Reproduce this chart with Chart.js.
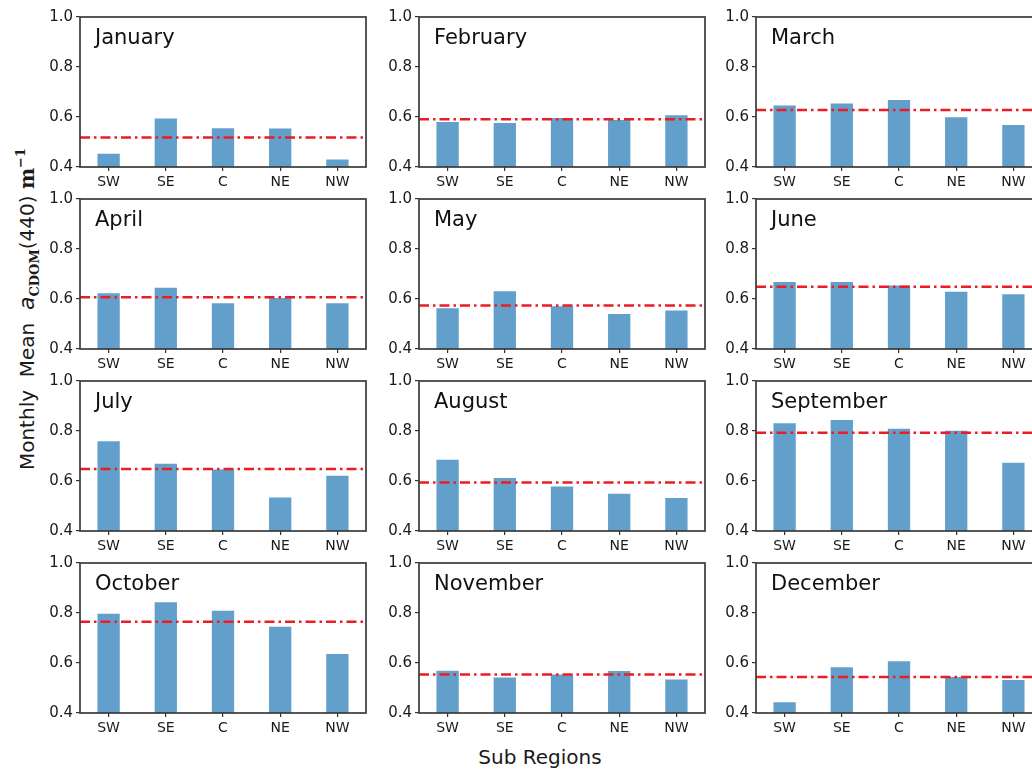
<!DOCTYPE html>
<html>
<head>
<meta charset="utf-8">
<script src="https://cdn.jsdelivr.net/npm/chart.js@4.4.0/dist/chart.umd.min.js"></script>
<style>
  html, body { margin: 0; padding: 0; background: #fff; width: 1032px; height: 769px; overflow: hidden; }
  body { position: relative; font-family: "DejaVu Sans", sans-serif; color: #1a1a1a; }
  .panel { position: absolute; }
  #ytitle {
    position: absolute; left: 27px; top: 309px;
    transform: translate(-50%, -50%) rotate(-90deg);
    white-space: nowrap; font-size: 20px; line-height: 1;
  }
  #ytitle i { font-family: "DejaVu Sans", sans-serif; font-size: 22px; }
  #ytitle .bs { font-family: "DejaVu Serif", serif; font-weight: bold; }
  #ytitle sub { font-size: 13px; vertical-align: -5px; }
  #ytitle sup { font-size: 13px; vertical-align: 9px; }
  #xtitle {
    position: absolute; left: 540px; top: 747px; transform: translateX(-50%);
    white-space: nowrap; font-size: 20px; line-height: 1;
  }
</style>
</head>
<body>
<div id="ytitle">Monthly&nbsp;&nbsp;Mean&nbsp;&nbsp;<i>a</i><sub class="bs">CDOM</sub>(440)&nbsp;<span class="bs">m</span><sup class="bs">&minus;1</sup></div>
<div id="xtitle">Sub Regions</div>
<script>
// sub regions on the x axis of every panel
const regions = ["SW", "SE", "C", "NE", "NW"];
const months = ["January", "February", "March", "April", "May", "June",
                "July", "August", "September", "October", "November", "December"];

// monthly mean aCDOM(440) per region, one row per month
const regionValues = [
  [0.453, 0.594, 0.555, 0.554, 0.430],
  [0.580, 0.576, 0.596, 0.588, 0.607],
  [0.646, 0.654, 0.668, 0.599, 0.568],
  [0.623, 0.645, 0.583, 0.604, 0.583],
  [0.563, 0.631, 0.571, 0.540, 0.554],
  [0.668, 0.668, 0.654, 0.629, 0.619],
  [0.759, 0.669, 0.646, 0.534, 0.621],
  [0.685, 0.612, 0.578, 0.549, 0.532],
  [0.831, 0.844, 0.809, 0.801, 0.673],
  [0.797, 0.843, 0.809, 0.745, 0.636],
  [0.569, 0.542, 0.554, 0.568, 0.534],
  [0.443, 0.583, 0.607, 0.544, 0.532]
];

// whole-area mean for each month (red dash-dot line)
const monthMeans = [0.518, 0.591, 0.628, 0.607, 0.574, 0.649,
                    0.648, 0.594, 0.793, 0.765, 0.554, 0.544];

const yTicks = [0.4, 0.6, 0.8, 1.0];

// panel grid (plot area corners)
const colLeft = [80, 419, 756];
const rowTop = [15, 197, 379, 561];
const plotW = 286, plotH = 152;
const padLeft = 50, padTop = 10, padRight = 6, padBottom = 32;

// draws the mean line, the frame and the month name
const panelDecor = {
  id: "panelDecor",
  afterDatasetsDraw(chart, args, opts) {
    const { ctx, chartArea: a, scales } = chart;
    const y = scales.y.getPixelForValue(opts.mean);
    ctx.save();
    ctx.strokeStyle = "#ec1c24";
    ctx.lineWidth = 2.5;
    ctx.setLineDash([10, 4, 2.5, 4]);
    ctx.beginPath();
    ctx.moveTo(a.left, y);
    ctx.lineTo(a.right, y);
    ctx.stroke();
    ctx.setLineDash([]);
    ctx.strokeStyle = "#3a3a3a";
    ctx.lineWidth = 1.7;
    ctx.strokeRect(a.left, a.top, a.right - a.left, a.bottom - a.top);
    ctx.fillStyle = "#111";
    ctx.font = "21px 'DejaVu Sans'";
    ctx.textBaseline = "alphabetic";
    ctx.fillText(opts.label, a.left + 15, a.top + 27);
    ctx.restore();
  }
};

months.forEach((m, i) => {
  const r = Math.floor(i / 3), c = i % 3;
  const wrap = document.createElement("div");
  wrap.className = "panel";
  wrap.style.left = (colLeft[c] - padLeft) + "px";
  wrap.style.top = (rowTop[r] - padTop) + "px";
  const canvas = document.createElement("canvas");
  canvas.width = padLeft + plotW + padRight;
  canvas.height = padTop + plotH + padBottom;
  wrap.appendChild(canvas);
  document.body.appendChild(wrap);

  new Chart(canvas, {
    type: "bar",
    data: {
      labels: regions,
      datasets: [{
        data: regionValues[i],
        backgroundColor: "#62a0cb",
        borderWidth: 0,
        barPercentage: 0.39,
        categoryPercentage: 1
      }]
    },
    options: {
      responsive: false,
      animation: false,
      devicePixelRatio: 1,
      layout: { padding: { top: padTop, right: padRight, left: 0, bottom: 0 } },
      plugins: {
        legend: { display: false },
        tooltip: { enabled: false },
        panelDecor: { mean: monthMeans[i], label: m }
      },
      scales: {
        x: {
          afterFit: s => { s.height = padBottom; },
          border: { display: false },
          grid: { offset: false, drawOnChartArea: false, drawTicks: true, tickLength: 4, color: "#333", lineWidth: 1.2 },
          ticks: { padding: 3, color: "#1a1a1a", font: { family: "DejaVu Sans", size: 14 }, maxRotation: 0 }
        },
        y: {
          min: 0.4,
          max: 1.0,
          afterFit: s => { s.width = padLeft; },
          afterBuildTicks: s => { s.ticks = yTicks.map(v => ({ value: v })); },
          border: { display: false },
          grid: { drawOnChartArea: false, drawTicks: true, tickLength: 4, color: "#333", lineWidth: 1.2 },
          ticks: { padding: 3, color: "#1a1a1a", font: { family: "DejaVu Sans", size: 15 },
                   callback: v => Number(v).toFixed(1) }
        }
      }
    },
    plugins: [panelDecor]
  });
});
</script>
</body>
</html>
